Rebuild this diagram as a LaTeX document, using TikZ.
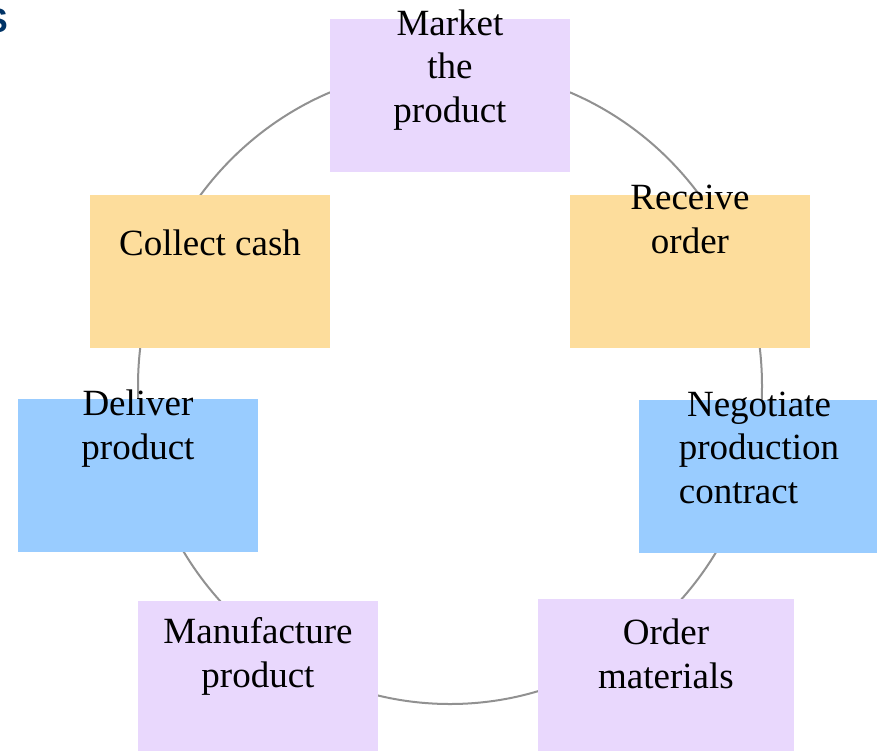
\documentclass[tikz,border=0pt]{standalone}
\usepackage{fontspec}
\setmainfont{Liberation Serif}
\newfontfamily\headfont{Liberation Sans}
\definecolor{lilac}{RGB}{233,216,253}
\definecolor{sand}{RGB}{253,221,156}
\definecolor{sky}{RGB}{153,204,255}
\definecolor{ring}{RGB}{145,145,145}
\definecolor{navy}{RGB}{0,51,102}
\begin{document}
\begin{tikzpicture}[x=1pt,y=-1pt,
  box/.style={inner sep=0pt,minimum width=240pt,minimum height=153pt},
  lbl/.style={anchor=base,align=center,inner sep=0pt,
    font=\fontsize{37}{43.5}\selectfont}]
\useasboundingbox (0,0) rectangle (877,750);
\clip (0,0) rectangle (877,750);
\node[anchor=base east,inner sep=0pt,text=navy,font=\headfont\bfseries\fontsize{34}{40}\selectfont] (hd) at (8,32) {S};
\coordinate (o) at (450,386);
\draw[ring,line width=2pt] (o) ellipse (312 and 318);
\node[box,fill=lilac] (mkt) at (450,95.5) {};
\node[box,fill=sand] (rcv) at (690,271.5) {};
\node[box,fill=sky,minimum width=238pt] (neg) at (758,476.5) {};
\node[box,fill=lilac,minimum width=256pt] (ord) at (666,675.5) {};
\node[box,fill=lilac] (mfg) at (258,677.5) {};
\node[box,fill=sky] (dlv) at (138,475.5) {};
\node[box,fill=sand] (col) at (210,271.5) {};
% base anchor sits on the last line
\node[lbl] (mkt-t) at (450,122) {Market\\the\\product};
\node[lbl] (rcv-t) at (690,253) {Receive\\order};
\node[lbl] (neg-t) at (759,503) {Negotiate\\production\\\rlap{contract}\phantom{production}};
\node[lbl] (ord-t) at (666,688) {Order\\materials};
\node[lbl] (mfg-t) at (258,687) {Manufacture\\product};
\node[lbl] (dlv-t) at (138,459) {Deliver\\product};
\node[lbl] (col-t) at (210,255) {Collect cash};
\end{tikzpicture}
\end{document}
